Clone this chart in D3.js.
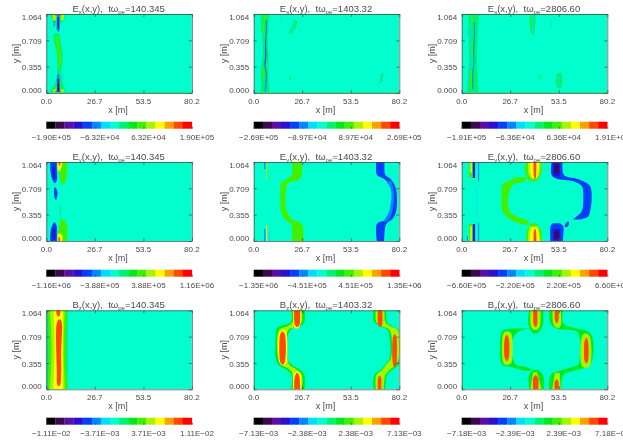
<!DOCTYPE html>
<html>
<head>
<meta charset="utf-8">
<script src="https://cdn.jsdelivr.net/npm/d3@7"></script>
<style>
  html, body { margin: 0; background: #fff; overflow: hidden; }
  svg { display: block; filter: blur(0.4px); }
  text { font-family: "Liberation Sans", sans-serif; fill: #4a4a4a; }
  .tick-label { font-size: 8px; }
  .axis-title { font-size: 9px; }
  .title { font-size: 9.5px; }
  .axis path, .axis line { stroke: #444; stroke-width: 0.7; }
</style>
</head>
<body>
<svg id="chart" width="623" height="445"></svg>
<script>
// 16 colour bands, background of every panel is band 7
const bandColors = ['#000000', '#3c0a50', '#5a10a0', '#2a10d0', '#0040f8', '#0088ff', '#00ddff', '#00ffcc',
                    '#00f070', '#00e820', '#40f000', '#a8f400', '#ffff00', '#ffa000', '#ff4800', '#ff0000'];

const xTicks = [0, 26.7, 53.5, 80.2];
const yTicks = [0, 0.355, 0.709, 1.064];
const fieldNames = ['E', 'E', 'B'];
const fieldSubs = ['x', 'y', 'z'];
const times = ['140.345', '1403.32', '2806.60'];

const barLabels = [
  ['\u22121.90E+05', '\u22126.32E+04', '6.32E+04', '1.90E+05'],
  ['\u22122.69E+05', '\u22128.97E+04', '8.97E+04', '2.69E+05'],
  ['\u22121.91E+05', '\u22126.36E+04', '6.36E+04', '1.91E+05'],
  ['\u22121.16E+06', '\u22123.88E+05', '3.88E+05', '1.16E+06'],
  ['\u22121.35E+06', '\u22124.51E+05', '4.51E+05', '1.35E+06'],
  ['\u22126.60E+05', '\u22122.20E+05', '2.20E+05', '6.60E+05'],
  ['\u22121.11E\u221202', '\u22123.71E\u221203', '3.71E\u221203', '1.11E\u221202'],
  ['\u22127.13E\u221203', '\u22122.38E\u221203', '2.38E\u221203', '7.13E\u221203'],
  ['\u22127.18E\u221203', '\u22122.39E\u221203', '2.39E\u221203', '7.18E\u221203']
];

// contour regions: [band, [y, xLeft, xRight], ...] in metres
const ex140 = [
  [8, [1.064, 2, 10.5], [1.0, 3, 10], [0.94, 4.5, 8], [0.85, 5.5, 7]],
  [8, [0.8, 4.2, 7], [0.7, 4.2, 7.8], [0.55, 5.8, 8.8], [0.4, 6, 8.8], [0.27, 6, 8]],
  [8, [0.27, 6, 8], [0.15, 5, 9], [0.05, 3, 10], [0, 2, 11]],
  [10, [0.76, 4.8, 6.6], [0.62, 5.6, 7.4], [0.48, 6.4, 8.2], [0.35, 6.6, 7.8]],
  [11, [1.064, 3.5, 5.5], [0.98, 3.5, 5.5]],
  [11, [1.064, 8, 10], [0.98, 8, 9.5]],
  [11, [0.05, 4, 5.5], [0, 3.5, 5.5]],
  [11, [0.05, 8, 9.5], [0, 8, 10]],
  [14, [1.064, 5, 8], [1.04, 5, 8]],
  [14, [0.03, 5, 8], [0, 5, 8]],
  [5, [1.064, 5.9, 7.3], [0.85, 5.9, 7.3], [0.82, 6.4, 6.9]],
  [3, [1.02, 6.2, 7], [0.86, 6.2, 7]],
  [5, [0.26, 6.4, 6.9], [0.22, 5.9, 7.3], [0, 5.9, 7.3]],
  [2, [0.19, 6.2, 7.1], [0.02, 6.2, 7.1]],
  [0, [0.12, 6.4, 6.9], [0.03, 6.4, 6.9]],
  [5, [0.97, 4, 4.6], [0.9, 4, 4.6]],
  [6, [0.26, 8.8, 9.6], [0.2, 8.8, 9.6]]
];
const ex1403 = [
  [8, [1.064, 3.6, 8.6], [0.9, 4, 8.2], [0.7, 4.8, 7.8], [0.5, 5, 8.2], [0.3, 4, 8], [0.1, 4, 8.4], [0, 3.6, 8.8]],
  [10, [1.06, 5.5, 6.6], [0.95, 5.5, 6.6]],
  [10, [0.93, 4.8, 5.9], [0.8, 4.8, 5.9]],
  [10, [0.35, 5, 6.1], [0.2, 5, 6.1]],
  [5, [0.98, 6.5, 7.2], [0.85, 6.6, 7.4], [0.7, 6.2, 6.9], [0.5, 6.2, 7], [0.35, 5.9, 6.6], [0.25, 6.6, 7.4], [0.1, 6.2, 7.1], [0, 6, 6.6]],
  [4, [0.72, 6.3, 6.8], [0.6, 6.3, 6.8], [0.5, 6.3, 6.9], [0.38, 6, 6.5]],
  [8, [0.98, 14.5, 15], [0.95, 14.5, 15]],
  [8, [0.98, 22, 24], [0.9, 21, 23.5], [0.8, 19, 21]],
  [6, [0.95, 22, 22.6], [0.82, 21, 21.6]],
  [8, [0.27, 70, 71.6], [0.18, 69.5, 71], [0.12, 68.5, 70]],
  [6, [0.26, 70.4, 71], [0.13, 69.2, 69.8]],
  [8, [0.22, 19.6, 20.6], [0.17, 19.6, 20.6]]
];
const ex2806 = [
  [8, [1.064, 3.5, 9.5], [0.5, 4, 8.5], [0, 3, 9.5]],
  [6, [0.86, 2.8, 3.4], [0.78, 2.8, 3.4]],
  [6, [1.05, 4.6, 5.2], [0.6, 4.8, 5.4], [0.15, 4.2, 4.8]],
  [10, [1.05, 5.2, 6], [0.9, 5.2, 6]],
  [10, [0.7, 5.4, 6.2], [0.53, 5.4, 6.2]],
  [10, [0.3, 4.6, 5.6], [0.08, 4.6, 5.6]],
  [5, [0.95, 6.6, 7.2], [0.8, 6.8, 7.4], [0.6, 6.3, 6.9], [0.42, 6.4, 7], [0.25, 5.8, 6.4], [0.05, 5.9, 6.5]],
  [8, [1.05, 37.5, 41], [0.9, 37.5, 40.5], [0.78, 38.5, 40]],
  [6, [1.04, 38.6, 39.2], [0.8, 38.8, 39.4]],
  [10, [1.0, 37.8, 38.4], [0.88, 37.8, 38.4]],
  [8, [0.27, 52.5, 55], [0.15, 52, 55.5], [0.07, 52.5, 54.5]],
  [6, [0.26, 53, 53.6], [0.08, 52.8, 53.4]],
  [10, [0.22, 53.6, 54.2], [0.1, 53.6, 54.2]],
  [8, [0.25, 43, 43.8], [0.18, 42.5, 43.3]],
  [8, [0.96, 49, 49.5], [0.9, 49, 49.5]]
];
const ey140 = [
  [4, [1.064, 2.2, 5.8], [0.95, 2.3, 5.8], [0.85, 3, 6], [0.8, 3.8, 5.5], [0.78, 4.4, 5]],
  [3, [1.0, 3.6, 4.7], [0.9, 3.5, 4.8], [0.83, 3.9, 4.6]],
  [4, [0.72, 4.4, 5.2], [0.65, 4.2, 6.2], [0.56, 4.8, 5.6]],
  [10, [1.064, 6.5, 11.5], [0.95, 6.7, 11.5], [0.85, 7.5, 11], [0.78, 8.4, 10], [0.76, 9, 9.4]],
  [12, [1.064, 6, 9], [0.97, 6.3, 8], [0.94, 6.8, 7.4]],
  [14, [1.064, 6.8, 7.8], [1.02, 6.8, 7.8]],
  [8, [0.5, 7.5, 8], [0.22, 7.5, 8]],
  [4, [0.25, 4.2, 4.8], [0.2, 3, 5.8], [0.1, 2.2, 5.8], [0, 2.2, 5.8]],
  [3, [0.17, 3.5, 5], [0.08, 3.4, 5], [0.02, 3.6, 4.8]],
  [2, [0.13, 4, 4.6], [0.05, 4, 4.6]],
  [10, [0.29, 8, 10], [0.2, 7, 11.5], [0.1, 6.5, 11.5], [0, 6.2, 11.5]],
  [12, [0.1, 6.8, 7.6], [0.07, 6.3, 8.8], [0, 6.3, 8.8]],
  [14, [0.05, 6.7, 7.6], [0, 6.7, 7.6]]
];
const ey1403 = [
  [10, [1.064, 21, 26.5], [0.89, 21, 26.5], [0.82, 17.3, 24.7], [0.78, 14.9, 19.1], [0.67, 14.7, 17.8], [0.49, 14.7, 17.5], [0.38, 15.3, 18.6], [0.29, 17.3, 21.5], [0.23, 20.6, 26.5], [0, 21, 27.4]],
  [4, [1.064, 67.5, 72.1], [0.89, 67.9, 72.5], [0.84, 71.6, 75.3], [0.76, 75.3, 77.5], [0.67, 76.7, 78.6], [0.49, 76.7, 78.9], [0.36, 75.3, 78], [0.29, 73, 76.2], [0.23, 67.9, 73], [0, 67.9, 71.9]],
  [5, [0.8, 73, 76], [0.7, 75.5, 77], [0.5, 75.5, 77], [0.34, 73.5, 75.6], [0.26, 71, 73]],
  [4, [1.064, 5.9, 6.4], [0.97, 5.9, 6.4]],
  [11, [1.064, 6.8, 7.4], [0.83, 6.8, 7.4]],
  [4, [0.16, 5.9, 6.4], [0, 5.9, 6.4]],
  [12, [0.22, 6.8, 7.4], [0, 6.8, 7.4]],
  [6, [0.11, 8.3, 9], [0, 8.3, 9]]
];
const ey2806 = [
  [10, [0.86, 30, 36], [0.805, 25.6, 34.8], [0.76, 22.4, 28.3], [0.58, 21.9, 25.6], [0.4, 22.4, 26.5], [0.33, 24.7, 30.2], [0.27, 28.3, 36.6], [0.22, 34, 37]],
  [10, [1.064, 35.3, 44], [0.94, 34.8, 44], [0.83, 36.6, 42.1], [0.8, 39, 41]],
  [11, [1.064, 36.6, 43.5], [0.9, 36.8, 42.8], [0.83, 38.8, 41]],
  [12, [1.064, 37.8, 42.6], [0.9, 38, 42], [0.85, 39, 40.8]],
  [14, [1.064, 39.6, 41.1], [0.88, 39.7, 41], [0.84, 40.1, 40.6]],
  [10, [0.24, 38.5, 41], [0.13, 35.7, 44], [0, 35.7, 44]],
  [11, [0.2, 37.5, 42], [0.1, 36.5, 43], [0, 36.5, 43.5]],
  [12, [0.18, 38.6, 41.6], [0.1, 37.8, 42.4], [0, 37.5, 42.7]],
  [14, [0.16, 40.1, 40.6], [0.12, 39.7, 41], [0, 39.6, 41.1]],
  [4, [1.064, 49.5, 55.6], [0.89, 49.5, 56.3], [0.84, 52.3, 63.3], [0.805, 61.5, 67], [0.74, 66.1, 70.7], [0.58, 67, 71.6], [0.4, 66.1, 70.7], [0.33, 63.3, 69.7], [0.29, 61.1, 65.1]],
  [4, [0.24, 50, 54], [0.2, 48.9, 55.9], [0, 48.9, 55.6]],
  [4, [0.26, 58, 59], [0.22, 57, 59], [0.19, 56.5, 58]],
  [3, [1.05, 50.4, 54.1], [0.87, 50.4, 54.1]],
  [1, [1.03, 51.2, 53.4], [0.92, 51.2, 53.4]],
  [3, [0.16, 50.4, 54.1], [0.01, 50.4, 54.1]],
  [1, [0.13, 51.2, 53.4], [0.03, 51.2, 53.4]],
  [10, [1.064, 4, 5.9], [0.85, 4, 5.9]],
  [12, [1.064, 4.8, 5.5], [0.92, 4.8, 5.5]],
  [3, [1.064, 6.1, 7.4], [0.85, 6.1, 7.4]],
  [5, [1.064, 9, 9.6], [0.8, 9, 9.6]],
  [6, [0.72, 8, 8.5], [0.32, 8, 8.5]],
  [10, [0.23, 4, 5.9], [0, 4, 5.9]],
  [12, [0.2, 4.8, 5.5], [0, 4.8, 5.5]],
  [3, [0.23, 6.1, 7.4], [0, 6.1, 7.4]],
  [5, [0.24, 9, 9.6], [0, 9, 9.6]],
  [5, [0.07, 2.8, 3.4], [0, 2.8, 3.4]]
];
const bz140 = [
  [8, [1.064, 0, 11.7], [0, 0, 11.7]],
  [10, [1.064, 1, 11.5], [0.7, 1.4, 10.8], [0.4, 1.4, 10.8], [0, 1, 11.5]],
  [11, [1.064, 2, 10.2], [0.7, 2.8, 9.6], [0.4, 2.8, 9.6], [0, 2, 10.2]],
  [12, [1.064, 4, 9], [0.7, 4.5, 9], [0.4, 4.5, 9], [0, 4, 9]],
  [14, [0.94, 6.8, 8], [0.9, 6, 8.5], [0.85, 5.5, 8.7], [0.5, 5.5, 8.2], [0.25, 5.8, 8.2], [0.07, 6, 7.8], [0.04, 6.6, 7.2]],
  [14, [1.064, 5.5, 7.8], [1.0, 5.8, 7.5], [0.98, 6.4, 7]]
];
const bz1403 = [
  [9, [1.064, 20.6, 28], [0.91, 20.6, 28], [0.85, 14.5, 25.6], [0.82, 12.7, 21], [0.69, 12.1, 18.2], [0.42, 12.1, 18.2], [0.33, 13.6, 21], [0.26, 18.2, 25.6], [0.19, 21, 28], [0, 20.6, 28]],
  [11, [1.064, 21.5, 26.5], [0.91, 21.5, 26.5], [0.85, 18.6, 24.1], [0.8, 14, 19.1], [0.42, 13.6, 18.6], [0.33, 15.5, 19.7], [0.26, 20.1, 24.1], [0.19, 21.5, 26.5], [0, 21.5, 26.5]],
  [12, [1.064, 22, 26], [0.87, 22, 25.6], [0.82, 22.8, 24.5]],
  [12, [0.8, 15.8, 17], [0.76, 14.2, 18], [0.36, 14.2, 18], [0.32, 15.5, 16.8]],
  [12, [0.24, 23.5, 24.5], [0.2, 22, 26], [0, 22, 26]],
  [14, [1.064, 22.3, 25.6], [0.87, 22.6, 25.2], [0.84, 23.6, 24.2]],
  [14, [0.78, 15.6, 16.2], [0.74, 14.6, 17.2], [0.37, 14.6, 17.2], [0.33, 15.6, 16.2]],
  [14, [0.22, 23.6, 24.4], [0.17, 22.6, 25.2], [0, 22.3, 25.6]],
  [9, [1.064, 66.1, 73], [0.91, 66.1, 73.4], [0.85, 69.7, 76.2], [0.8, 73.8, 80.2], [0.69, 74.9, 80.2], [0.42, 74.9, 80.2], [0.33, 72.5, 79.9], [0.26, 69.7, 76.2], [0.19, 66.4, 73.4], [0, 66.1, 72.5]],
  [11, [1.064, 67.3, 72.1], [0.91, 67.5, 72.5], [0.85, 70.7, 75.3], [0.8, 74.9, 79.3], [0.42, 75.6, 79.9], [0.33, 73, 78], [0.26, 70.7, 74.9], [0.19, 67.5, 72.5], [0, 67.3, 71.6]],
  [14, [1.064, 68.4, 70.8], [0.88, 68.5, 70.8], [0.84, 69.4, 70]],
  [14, [0.74, 77.4, 78], [0.7, 76.7, 78.6], [0.34, 76.7, 78.6], [0.3, 77.4, 78]],
  [14, [0.18, 69, 69.8], [0.14, 68.4, 70.3], [0, 68.4, 70.3]]
];
const bz2806 = [
  [9, [0.82, 28, 37.5], [0.785, 22.4, 32], [0.69, 21.3, 28.3], [0.42, 21.3, 28], [0.33, 22.4, 30.2], [0.3, 27.4, 35.7], [0.25, 33.9, 39.4]],
  [9, [1.064, 37.2, 44.9], [0.89, 36.6, 44.9], [0.8, 37.9, 43.4], [0.75, 39.4, 41.6]],
  [9, [0.26, 39.4, 42.1], [0.19, 37, 44.9], [0, 37.2, 45.3]],
  [11, [0.78, 24, 26], [0.74, 22.8, 27.4], [0.36, 22.8, 27.4], [0.33, 24, 26]],
  [14, [0.73, 24.6, 25], [0.68, 23.7, 25.9], [0.42, 23.7, 25.9], [0.38, 24.6, 25]],
  [11, [1.064, 37.9, 43.4], [0.85, 38.1, 43.1], [0.8, 39.7, 41.6]],
  [14, [1.064, 39.4, 41.6], [0.88, 39.6, 41.6], [0.84, 40.4, 41]],
  [11, [0.23, 39.5, 41.5], [0.18, 39, 42.1], [0, 37.9, 44]],
  [14, [0.19, 40.5, 41], [0.15, 39.4, 42.1], [0, 39.4, 42.1]],
  [9, [1.064, 48.2, 55.9], [0.89, 48.9, 55.9], [0.82, 52.3, 63.3], [0.78, 63.3, 69.7], [0.69, 65.1, 72.1], [0.42, 65.1, 72.1], [0.33, 64.2, 70.7], [0.29, 59.6, 67.9], [0.25, 54, 61.5], [0.19, 48.9, 55.9], [0, 48.2, 55]],
  [11, [1.064, 50, 54.5], [0.89, 50.4, 54.8], [0.83, 51.9, 54.1]],
  [14, [1.064, 51.3, 53.4], [0.93, 51.4, 53.3], [0.89, 52, 52.6]],
  [11, [0.75, 67.5, 69], [0.7, 66.1, 70.7], [0.32, 66.1, 70.7], [0.29, 67.5, 69]],
  [14, [0.69, 68.4, 68.9], [0.65, 67.7, 69.6], [0.38, 67.7, 69.6], [0.35, 68.4, 68.9]],
  [11, [0.22, 51.3, 54.1], [0, 49.9, 54.5]],
  [14, [0.13, 51.8, 52.8], [0.09, 51.2, 53.4], [0, 51.2, 53.4]]
];
const regions = [ex140, ex1403, ex2806, ey140, ey1403, ey2806, bz140, bz1403, bz2806];

const colLeft = [46.3, 253.7, 461.7];
const plotWidth = 145.6;
const rowTop = [14, 162, 310.3];
const plotHeight = 79;
const barTop = [121.7, 269.7, 417.7];
const barHeight = 7;

const svg = d3.select('#chart');

colLeft.forEach((left, c) => {
  rowTop.forEach((top, r) => drawPanel(left, top, barTop[r], r, c));
});

function drawPanel(left, top, barY, r, c) {
  const id = r * 3 + c;
  const x = d3.scaleLinear().domain([0, 80.2]).range([left, left + plotWidth]);
  const y = d3.scaleLinear().domain([0, 1.064]).range([top + plotHeight, top]);

  svg.append('clipPath').attr('id', 'clip' + id)
     .append('rect')
     .attr('x', left).attr('y', top)
     .attr('width', plotWidth).attr('height', plotHeight);

  const group = svg.append('g').attr('clip-path', 'url(#clip' + id + ')');
  group.append('rect')
       .attr('x', left).attr('y', top)
       .attr('width', plotWidth).attr('height', plotHeight)
       .attr('fill', bandColors[7]);

  const area = d3.area()
                 .y(d => y(d[0]))
                 .x0(d => x(d[1]))
                 .x1(d => x(d[2]))
                 .curve(d3.curveCatmullRom.alpha(0.5));

  group.selectAll('path')
       .data(regions[id])
       .enter()
       .append('path')
       .attr('fill', d => bandColors[d[0]])
       .attr('d', d => area(d.slice(1)));

  // thin stripes along the top and bottom of the Ex panels
  if (r === 0) {
    [[1.064, 1.052], [0.012, 0]].forEach(edge => {
      group.append('rect')
           .attr('x', x(0)).attr('y', y(edge[0]))
           .attr('width', plotWidth)
           .attr('height', y(edge[1]) - y(edge[0]))
           .attr('fill', bandColors[8]);
    });
  }

  drawAxes(x, y, top, left);
  drawTitles(top, left, r, c);
  drawColorBar(left, barY, barLabels[id]);
}

function drawAxes(x, y, top, left) {
  const bottomAxis = d3.axisBottom(x).tickValues(xTicks).tickSize(-3).tickSizeOuter(0)
                       .tickFormat(d3.format('.1f'));
  const topAxis = d3.axisTop(x).tickValues(xTicks).tickSize(-3).tickSizeOuter(0).tickFormat('');
  const leftAxis = d3.axisLeft(y).tickValues(yTicks).tickSize(-3).tickSizeOuter(0)
                     .tickFormat(d3.format('.3f'));
  const rightAxis = d3.axisRight(y).tickValues(yTicks).tickSize(-3).tickSizeOuter(0).tickFormat('');

  const gb = svg.append('g').attr('class', 'axis').attr('transform', translate(0, top + plotHeight)).call(bottomAxis);
  svg.append('g').attr('class', 'axis').attr('transform', translate(0, top)).call(topAxis);
  const gl = svg.append('g').attr('class', 'axis').attr('transform', translate(left, 0)).call(leftAxis);
  svg.append('g').attr('class', 'axis').attr('transform', translate(left + plotWidth, 0)).call(rightAxis);

  gb.selectAll('text').attr('class', 'tick-label').attr('y', 5.5).attr('dy', '0.71em').attr('dx', -0.5);
  gl.selectAll('text').attr('class', 'tick-label').attr('x', -4.5)
    .attr('dy', d => d === 0 ? '-0.05em' : d === 1.064 ? '0.65em' : '0.4em');
  svg.selectAll('.axis .domain').attr('fill', 'none');
}

function drawTitles(top, left, r, c) {
  const title = svg.append('text')
                   .attr('class', 'title')
                   .attr('x', left + plotWidth / 2 - 0.5)
                   .attr('y', top - 2.5)
                   .attr('text-anchor', 'middle');
  title.append('tspan').text(fieldNames[r]);
  title.append('tspan').attr('font-size', 6).attr('dy', 2).text(fieldSubs[r]);
  title.append('tspan').attr('dy', -2).text('(x,y),\u00a0\u00a0t\u03c9');
  title.append('tspan').attr('font-size', 6).attr('dy', 2).text('pe');
  title.append('tspan').attr('dy', -2).text('=' + times[c]);

  svg.append('text')
     .attr('class', 'axis-title')
     .attr('x', left + plotWidth / 2 - 1)
     .attr('y', top + plotHeight + 20)
     .attr('text-anchor', 'middle')
     .text('x [m]');

  svg.append('text')
     .attr('class', 'axis-title')
     .attr('transform', translate(left - 27, top + plotHeight / 2) + ' rotate(-90)')
     .attr('text-anchor', 'middle')
     .text('y [m]');
}

function drawColorBar(left, barY, labels) {
  const band = d3.scaleBand()
                 .domain(d3.range(bandColors.length))
                 .range([left, left + plotWidth]);

  svg.append('g').selectAll('rect')
     .data(bandColors)
     .enter()
     .append('rect')
     .attr('x', (d, i) => band(i))
     .attr('y', barY)
     .attr('width', band.bandwidth() + 0.2)
     .attr('height', barHeight)
     .attr('fill', d => d);

  const labelScale = d3.scalePoint().domain(labels).range([left, left + plotWidth]);
  const axis = d3.axisBottom(labelScale).tickSize(-2).tickSizeOuter(0);
  const g = svg.append('g').attr('class', 'axis')
               .attr('transform', translate(0, barY + barHeight))
               .call(axis);
  g.selectAll('text').attr('class', 'tick-label').attr('y', 5.5).attr('dy', '0.71em').attr('dx', 4.5);
  g.select('.domain').remove();
}

function translate(x, y) {
  return 'translate(' + String(x) + ',' + String(y) + ')';
}
</script>
</body>
</html>
